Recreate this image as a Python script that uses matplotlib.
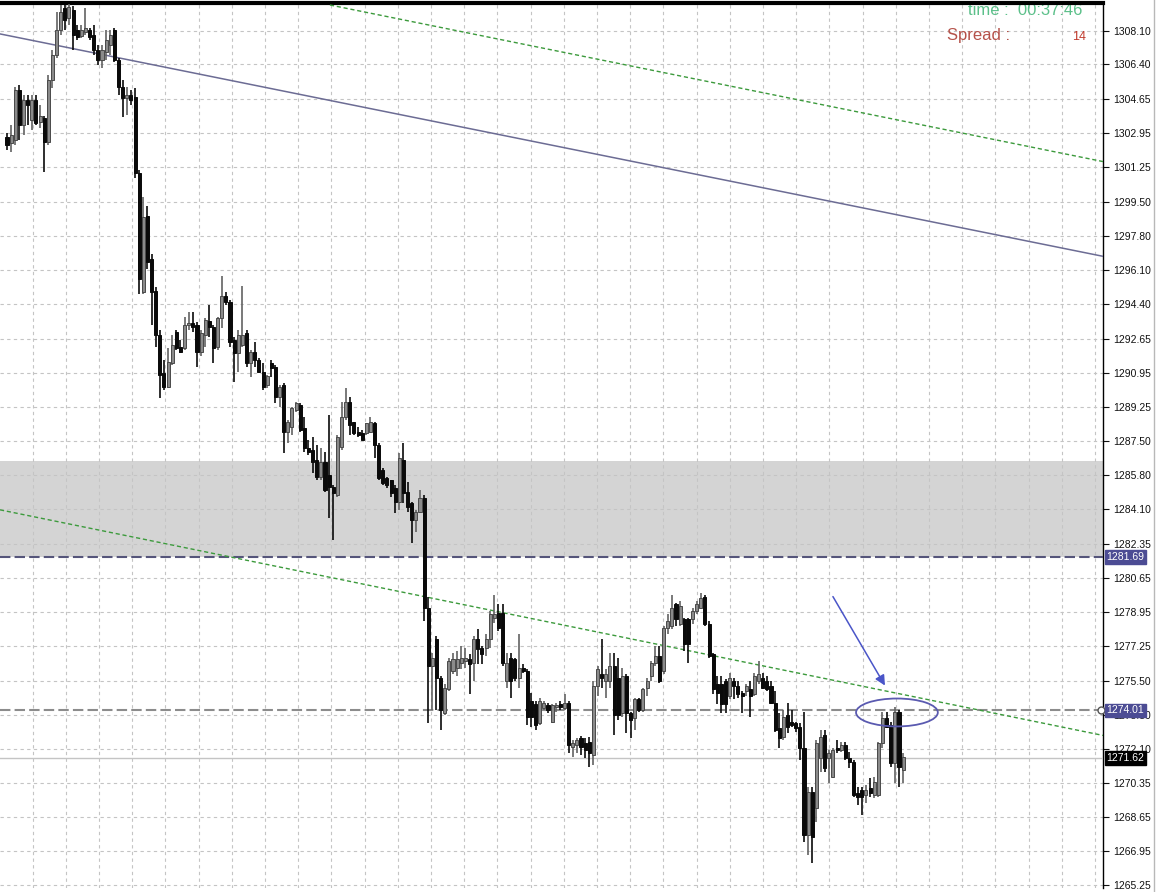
import numpy as np
import matplotlib.pyplot as plt
from matplotlib.patches import Ellipse
from matplotlib.lines import Line2D

plt.rcParams['font.family'] = ['Liberation Sans', 'DejaVu Sans']

# OHLC bars (price) left to right
opens = [1302.78, 1302.48, 1302.63, 1305.13, 1303.38, 1304.63, 1303.63, 1304.63, 1303.53, 1303.73,
         1302.53, 1305.63, 1306.88, 1308.13, 1309.23, 1308.73, 1309.13, 1308.13, 1307.83, 1308.03,
         1308.13, 1307.88, 1307.13, 1306.63, 1307.03, 1307.38, 1308.13, 1306.63, 1305.28, 1304.73,
         1304.88, 1304.78, 1300.98, 1294.98, 1298.78, 1296.63, 1295.03, 1292.82, 1290.92, 1290.22,
         1291.42, 1292.97, 1292.22, 1292.17, 1293.32, 1293.42, 1293.32, 1291.97, 1292.82, 1293.52,
         1293.22, 1292.22, 1293.67, 1294.78, 1294.47, 1292.57, 1291.92, 1292.32, 1292.92, 1291.42,
         1291.97, 1291.57, 1290.97, 1290.32, 1291.42, 1291.22, 1289.72, 1290.32, 1287.97, 1288.22,
         1289.07, 1289.32, 1288.17, 1287.17, 1287.07, 1286.57, 1285.72, 1286.47, 1285.82, 1285.22,
         1284.82, 1287.22, 1288.72, 1289.47, 1288.47, 1287.97, 1287.92, 1287.92, 1287.97, 1288.42,
         1287.32, 1286.07, 1285.67, 1285.57, 1285.17, 1284.47, 1286.57, 1284.97, 1284.42, 1283.57,
         1283.97, 1284.67, 1279.16, 1276.26, 1277.61, 1275.66, 1273.86, 1275.11, 1276.01, 1276.16,
         1276.41, 1276.51, 1276.61, 1276.41, 1277.61, 1277.16, 1277.16, 1277.61, 1278.66, 1278.91,
         1278.91, 1275.51, 1276.66, 1276.61, 1275.66, 1276.16, 1276.01, 1274.51, 1274.36, 1273.36,
         1274.11, 1274.26, 1273.41, 1274.16, 1274.36, 1274.11, 1274.41, 1272.16, 1272.26, 1272.61,
         1272.36, 1272.41, 1271.76, 1275.26, 1275.86, 1275.51, 1275.51, 1276.26, 1275.66, 1273.86,
         1275.76, 1273.86, 1273.61, 1274.61, 1274.01, 1275.16, 1275.76, 1276.41, 1276.76, 1276.01,
         1278.16, 1278.26, 1279.36, 1278.36, 1278.61, 1278.61, 1278.61, 1279.01, 1279.16, 1279.72,
         1278.36, 1276.86, 1275.36, 1275.36, 1275.51, 1274.76, 1275.51, 1275.26, 1274.91, 1275.01,
         1275.11, 1274.86, 1275.51, 1275.66, 1275.51, 1275.26, 1274.41, 1273.11, 1272.66, 1273.76,
         1273.41, 1273.36, 1273.16, 1272.11, 1267.76, 1269.91, 1269.11, 1271.61, 1272.76, 1271.61,
         1270.66, 1272.11, 1272.01, 1272.26, 1271.61, 1271.41, 1269.86, 1270.01, 1269.76, 1270.11,
         1269.76, 1269.76, 1272.36, 1273.61, 1273.26, 1271.36, 1273.91, 1271.01]
highs = [1302.98, 1303.38, 1305.28, 1305.38, 1304.88, 1304.88, 1304.88, 1304.88, 1304.38, 1303.83,
         1305.88, 1307.13, 1309.03, 1309.38, 1309.38, 1309.43, 1309.33, 1308.38, 1308.38, 1309.23,
         1308.23, 1308.38, 1307.38, 1307.38, 1308.13, 1308.13, 1308.23, 1306.73, 1305.63, 1305.28,
         1305.13, 1305.23, 1301.13, 1299.73, 1299.28, 1296.88, 1295.23, 1293.07, 1291.57, 1292.17,
         1292.82, 1293.07, 1292.57, 1293.72, 1293.97, 1293.97, 1293.47, 1293.07, 1293.67, 1294.32,
         1293.32, 1293.72, 1295.78, 1294.98, 1294.57, 1292.72, 1293.07, 1295.28, 1293.07, 1292.07,
         1292.47, 1291.67, 1291.42, 1290.82, 1291.57, 1291.32, 1290.32, 1290.42, 1288.57, 1289.22,
         1289.47, 1289.42, 1288.72, 1287.57, 1287.72, 1287.32, 1287.17, 1286.97, 1288.82, 1285.32,
         1287.82, 1289.47, 1290.17, 1289.72, 1288.47, 1288.22, 1288.07, 1288.42, 1288.72, 1288.47,
         1287.42, 1286.17, 1285.72, 1285.57, 1285.32, 1286.92, 1287.42, 1285.47, 1284.47, 1284.07,
         1285.07, 1284.82, 1279.72, 1276.91, 1277.76, 1275.76, 1275.36, 1276.66, 1276.91, 1277.01,
         1277.26, 1277.16, 1276.86, 1277.76, 1278.11, 1277.26, 1277.86, 1279.01, 1279.82, 1279.36,
         1279.36, 1276.91, 1276.91, 1276.66, 1277.86, 1276.36, 1276.11, 1274.91, 1274.51, 1274.66,
         1274.51, 1274.41, 1274.36, 1274.41, 1274.51, 1274.86, 1274.51, 1272.51, 1272.61, 1272.71,
         1272.61, 1272.66, 1275.51, 1276.26, 1277.61, 1276.11, 1276.91, 1276.91, 1276.66, 1276.16,
         1275.86, 1273.91, 1274.66, 1274.66, 1275.16, 1275.66, 1276.51, 1277.26, 1277.26, 1278.26,
         1278.86, 1279.82, 1279.41, 1279.51, 1278.66, 1278.66, 1279.16, 1279.51, 1279.92, 1279.82,
         1278.51, 1276.91, 1275.76, 1275.76, 1275.61, 1275.91, 1275.66, 1275.51, 1275.01, 1275.36,
         1275.51, 1275.91, 1276.51, 1275.91, 1275.76, 1275.51, 1275.01, 1273.86, 1274.01, 1274.41,
         1274.01, 1273.41, 1273.36, 1273.91, 1270.16, 1270.16, 1272.51, 1273.01, 1273.01, 1272.01,
         1272.11, 1272.51, 1272.41, 1272.41, 1271.91, 1271.51, 1270.16, 1270.16, 1270.26, 1270.61,
         1270.66, 1272.41, 1273.91, 1273.91, 1273.41, 1274.16, 1274.01, 1271.86]
lows = [1302.13, 1302.03, 1302.38, 1302.63, 1302.88, 1303.38, 1303.13, 1303.38, 1303.23, 1301.03,
        1302.38, 1305.23, 1306.73, 1307.88, 1308.13, 1308.38, 1307.13, 1307.63, 1307.73, 1307.88,
        1307.63, 1306.88, 1306.38, 1306.23, 1306.63, 1306.88, 1306.53, 1304.88, 1303.78, 1303.88,
        1304.38, 1300.73, 1294.88, 1294.88, 1296.13, 1293.32, 1292.22, 1289.67, 1290.07, 1290.17,
        1291.32, 1292.07, 1291.92, 1292.07, 1293.07, 1292.97, 1291.22, 1291.77, 1292.22, 1292.72,
        1291.42, 1292.07, 1293.17, 1294.32, 1292.22, 1290.47, 1290.97, 1292.22, 1291.22, 1290.72,
        1291.22, 1290.92, 1290.07, 1290.17, 1290.72, 1289.42, 1289.22, 1286.92, 1287.42, 1287.82,
        1288.97, 1287.97, 1286.97, 1286.82, 1285.92, 1285.57, 1285.57, 1284.97, 1283.67, 1282.57,
        1284.72, 1287.07, 1288.57, 1287.82, 1287.82, 1287.72, 1287.57, 1287.82, 1287.92, 1286.67,
        1285.57, 1285.32, 1285.17, 1284.72, 1283.92, 1284.07, 1284.42, 1283.97, 1282.42, 1282.97,
        1283.92, 1278.51, 1273.36, 1274.01, 1274.01, 1273.01, 1273.76, 1275.01, 1275.86, 1275.76,
        1276.11, 1276.16, 1274.86, 1275.51, 1276.36, 1276.36, 1276.76, 1277.16, 1278.41, 1278.01,
        1276.26, 1275.16, 1274.66, 1275.51, 1275.16, 1275.91, 1273.26, 1273.16, 1273.01, 1273.26,
        1274.01, 1273.86, 1273.36, 1273.91, 1274.01, 1274.01, 1271.86, 1271.66, 1271.86, 1271.76,
        1271.61, 1271.16, 1271.26, 1274.76, 1275.16, 1274.66, 1275.16, 1272.76, 1273.51, 1273.66,
        1272.86, 1272.61, 1273.01, 1273.91, 1273.91, 1274.76, 1275.51, 1276.26, 1275.41, 1275.86,
        1277.86, 1278.11, 1278.26, 1278.26, 1277.01, 1276.41, 1278.36, 1278.86, 1279.11, 1278.26,
        1276.66, 1274.86, 1274.36, 1273.86, 1273.86, 1274.61, 1274.61, 1274.66, 1273.86, 1274.76,
        1273.66, 1274.76, 1275.36, 1275.11, 1275.01, 1274.36, 1272.91, 1272.11, 1272.51, 1272.86,
        1273.16, 1272.91, 1271.51, 1267.41, 1266.76, 1266.36, 1268.41, 1270.91, 1270.91, 1270.36,
        1270.61, 1271.86, 1271.91, 1271.51, 1271.11, 1269.66, 1269.26, 1268.76, 1269.36, 1269.66,
        1269.61, 1269.66, 1272.11, 1273.11, 1271.16, 1270.36, 1270.16, 1270.36]
closes = [1302.38, 1302.88, 1305.13, 1303.38, 1304.63, 1304.38, 1304.63, 1303.48, 1303.83, 1302.53,
          1305.63, 1306.88, 1308.13, 1309.03, 1308.63, 1309.28, 1307.88, 1307.78, 1308.13, 1308.23,
          1307.78, 1307.13, 1306.63, 1307.13, 1307.63, 1307.88, 1306.63, 1305.28, 1304.73, 1304.88,
          1304.63, 1300.98, 1295.63, 1298.73, 1296.48, 1294.98, 1292.82, 1290.82, 1290.22, 1291.47,
          1292.32, 1292.17, 1291.97, 1293.32, 1293.42, 1293.22, 1291.97, 1292.92, 1293.57, 1293.22,
          1292.17, 1293.67, 1294.78, 1294.47, 1292.47, 1291.92, 1292.82, 1292.82, 1291.42, 1291.97,
          1291.57, 1290.97, 1290.22, 1290.77, 1291.17, 1289.72, 1290.22, 1287.97, 1288.47, 1289.17,
          1289.42, 1288.07, 1287.17, 1286.97, 1286.47, 1285.72, 1286.47, 1285.07, 1285.22, 1284.92,
          1287.72, 1288.72, 1289.47, 1288.32, 1287.92, 1287.82, 1287.57, 1288.42, 1288.47, 1287.32,
          1285.67, 1285.42, 1285.32, 1284.92, 1284.47, 1286.67, 1284.92, 1284.22, 1283.57, 1283.97,
          1284.67, 1279.16, 1276.26, 1276.66, 1275.66, 1274.01, 1275.16, 1276.51, 1276.61, 1276.61,
          1276.66, 1276.66, 1276.36, 1277.61, 1277.11, 1276.86, 1277.61, 1278.86, 1278.86, 1278.16,
          1276.41, 1276.41, 1275.51, 1275.66, 1276.16, 1276.01, 1273.66, 1273.66, 1273.26, 1274.51,
          1274.41, 1274.01, 1274.26, 1274.26, 1274.16, 1274.41, 1272.26, 1272.36, 1272.51, 1272.16,
          1272.01, 1271.86, 1275.26, 1276.11, 1275.66, 1275.86, 1276.26, 1273.76, 1273.76, 1275.76,
          1273.86, 1273.51, 1274.61, 1274.01, 1275.11, 1275.51, 1276.41, 1276.76, 1275.51, 1278.16,
          1278.51, 1279.16, 1278.61, 1279.26, 1277.36, 1277.36, 1279.01, 1279.36, 1279.67, 1278.36,
          1276.76, 1275.11, 1274.91, 1274.36, 1274.36, 1275.66, 1275.26, 1274.86, 1274.76, 1275.26,
          1274.76, 1275.76, 1275.86, 1275.16, 1275.11, 1274.41, 1273.01, 1272.61, 1273.66, 1273.16,
          1273.26, 1273.11, 1272.11, 1267.76, 1269.91, 1267.66, 1272.36, 1272.66, 1271.11, 1271.86,
          1272.01, 1272.01, 1272.26, 1271.61, 1271.41, 1269.76, 1269.66, 1269.66, 1270.01, 1269.86,
          1270.41, 1272.36, 1273.61, 1273.16, 1271.36, 1273.91, 1271.16, 1271.66]

# price axis labels
price_ticks = [1308.10, 1306.40, 1304.65, 1302.95, 1301.25, 1299.50, 1297.80, 1296.10, 1294.40,
               1292.65, 1290.95, 1289.25, 1287.50, 1285.80, 1284.10, 1282.35, 1280.65, 1278.95,
               1277.25, 1275.50, 1273.80, 1272.10, 1270.35, 1268.65, 1266.95, 1265.25]

# objects drawn on the chart
zone_low, zone_high = 1281.69, 1286.52
resistance = 1281.69
support = 1274.01
bid = 1271.62
trend_x, trend_y = [-1.7, 265.4], [1307.93, 1296.78]
chan_top_x, chan_top_y = [78.2, 265.4], [1309.38, 1301.53]
chan_bot_x, chan_bot_y = [-1.7, 265.4], [1284.07, 1272.76]
arrow_from, arrow_to = (200.0, 1279.72), (212.6, 1275.26)
ellipse_xy, ellipse_w, ellipse_h = (215.5, 1273.91), 19.8, 1.4

W, H = 1158, 892
fig = plt.figure(figsize=(W / 100, H / 100), dpi=100)
ax = fig.add_axes([0, 4 / H, 1103 / W, 885 / H])
ax.set_xlim(-1.7, 265.4)
ax.set_ylim(1265.11, 1309.48)

# grid
ax.set_axisbelow(True)
ax.set_xticks(np.arange(6.2, 265.4, 8.04))
ax.set_yticks(price_ticks)
ax.grid(True, color='#c4c4c4', linestyle=(0, (3, 3)), linewidth=0.8)
ax.tick_params(axis='x', length=0, labelbottom=False)
ax.yaxis.tick_right()
ax.set_yticklabels([f'{t:.2f}' for t in price_ticks])
ax.tick_params(axis='y', direction='out', length=4, width=0.8, pad=3,
               labelsize=7.5, colors='#111111')

for side in ['left', 'bottom']:
    ax.spines[side].set_visible(False)
ax.spines['top'].set_linewidth(3)
ax.spines['right'].set_linewidth(1)

# zone and levels
ax.axhspan(zone_low, zone_high, color='#d4d4d4', zorder=0.2, lw=0)
ax.axhline(resistance, color='#55557a', lw=1.5, linestyle=(0, (5, 2)), zorder=3)
ax.axhline(support, color='#8c8c8c', lw=1.5, linestyle=(0, (5, 2)), zorder=3)
ax.axhline(bid, color='#c4c4c4', lw=1, zorder=3)

# trend and channel lines
ax.plot(trend_x, trend_y, color='#6c6c94', lw=1.1, zorder=3)
ax.plot(chan_top_x, chan_top_y, color='#3c9a3c', lw=1, linestyle=(0, (3, 2)), zorder=3)
ax.plot(chan_bot_x, chan_bot_y, color='#3c9a3c', lw=1, linestyle=(0, (3, 2)), zorder=3)

# candles
x = np.arange(len(closes))
o, h, l, c = map(np.array, (opens, highs, lows, closes))
up = c >= o
body_lo = np.minimum(o, c)
body_h = np.maximum(np.abs(c - o), 0.06)
ax.vlines(x[up], l[up], h[up], colors='#626262', lw=1.2, zorder=4)
ax.vlines(x[~up], l[~up], h[~up], colors='#0a0a0a', lw=1.2, zorder=4)
ax.bar(x[up], body_h[up], bottom=body_lo[up], width=0.74, color='#8a8a8a',
       edgecolor='#4a4a4a', linewidth=0.7, zorder=5)
ax.bar(x[~up], body_h[~up], bottom=body_lo[~up], width=0.74, color='#0a0a0a',
       edgecolor='#0a0a0a', linewidth=0.7, zorder=5)

# annotation arrow and ellipse
ax.annotate('', xy=arrow_to, xytext=arrow_from,
            arrowprops=dict(arrowstyle='-|>', color='#4a55c8', lw=1.1,
                            mutation_scale=15, shrinkA=0, shrinkB=0), zorder=6)
ax.add_patch(Ellipse(ellipse_xy, ellipse_w, ellipse_h, fill=False,
                     edgecolor='#5a5ab0', lw=1.3, zorder=6))
ax.plot([264.9], [support], marker='o', ms=5, mfc='white', mec='#555555', zorder=6, clip_on=False)

# price labels on the axis
for val, bg in [(resistance, '#4c4c94'), (support, '#4c4c94'), (bid, '#000000')]:
    ax.annotate(f'{val:.2f}', xy=(1.0, val), xycoords=('axes fraction', 'data'),
                xytext=(2.5, 0), textcoords='offset points', ha='left', va='center',
                fontsize=7.5, color='white', annotation_clip=False, zorder=7,
                bbox=dict(boxstyle='square,pad=0.18', fc=bg, ec=bg))

# info text
ax.text(968 / 1103, (888 - 15) / 885, 'time :  00:37:46', transform=ax.transAxes,
        fontsize=12, color='#5cc08a', va='baseline', ha='left', zorder=2, clip_on=False)
ax.text(947 / 1103, (888 - 40) / 885, 'Spread :', transform=ax.transAxes,
        fontsize=12, color='#b5524a', va='baseline', ha='left', zorder=2)
ax.text(1072 / 1103, (888 - 40) / 885, '14', transform=ax.transAxes,
        fontsize=9, color='#c0392b', va='baseline', ha='left', zorder=2)

fig.add_artist(Line2D([1154 / W, 1154 / W], [0, 1], color='#b8b8b8', lw=1))

fig.savefig('out.png', dpi=100)
